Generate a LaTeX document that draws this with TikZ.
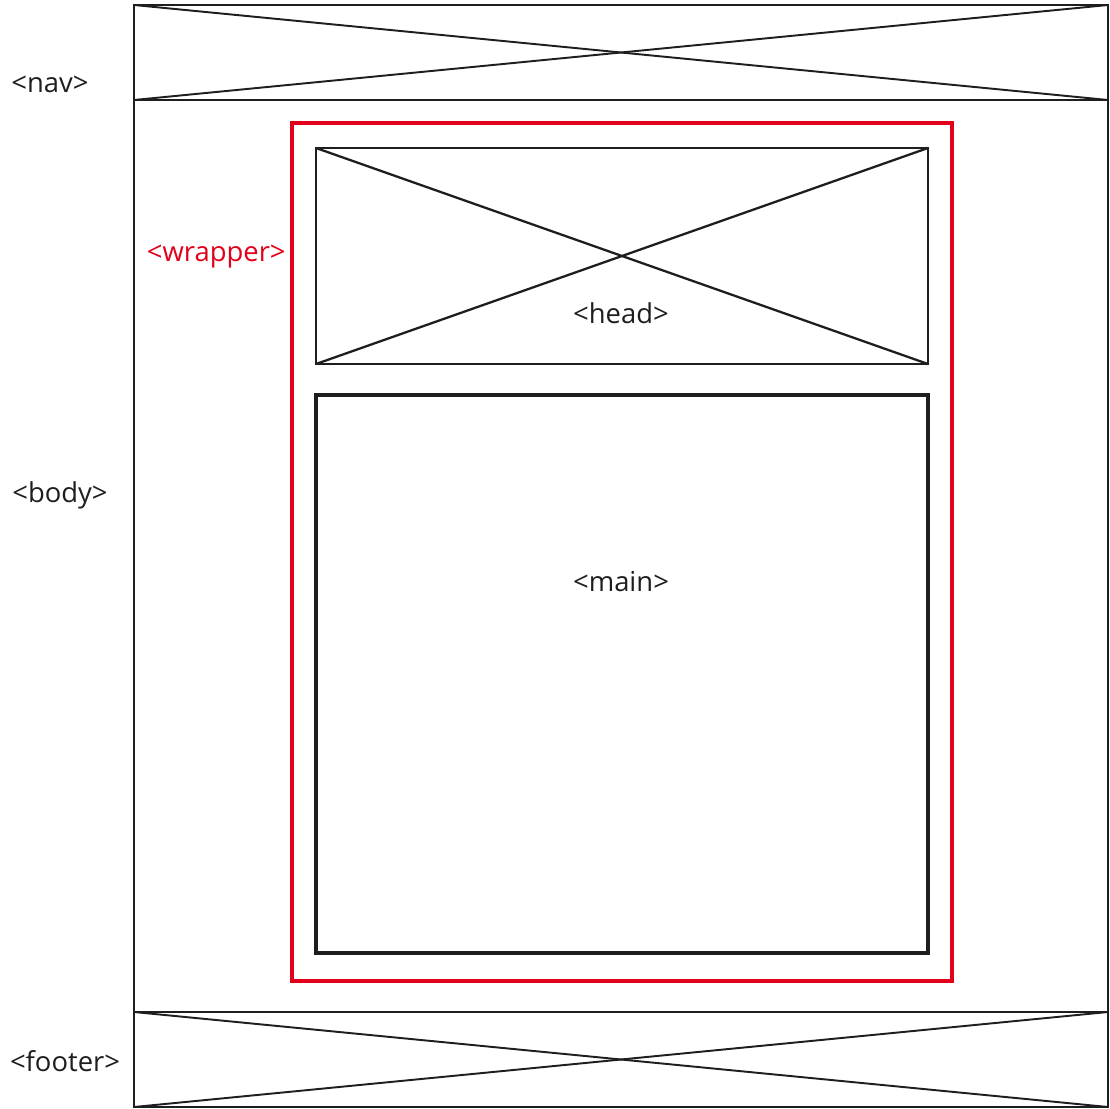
\documentclass[tikz,border=0pt]{standalone}
\usepackage{fontspec}
\setmainfont{Open Sans}
\usepackage{xcolor}
\usepackage{tikz}
\usetikzlibrary{positioning, calc}

\definecolor{wrapred}{RGB}{226,0,26}
\definecolor{ink}{RGB}{30,30,30}

\begin{document}
\begin{tikzpicture}[
        x=0.02cm, y=-0.02cm,
        font=\fontsize{15.6}{18}\selectfont,
        frame/.style={draw=ink, line width=1.2pt},
        cross/.style={draw=ink, line width=1.1pt},
        tag/.style={text=ink, inner sep=0pt}
    ]
        \useasboundingbox (0,0) rectangle (1110,1109);

        % outer page
        \coordinate (page_tl) at (134,5);
        \coordinate (page_br) at (1108,1107);
        \coordinate (nav_br) at (1108,100);
        \coordinate (foot_tl) at (134,1012);

        \draw[frame] (page_tl) rectangle (page_br);
        \draw[frame] (134,100) -- (nav_br);
        \draw[frame] (foot_tl) -- (1108,1012);

        % nav and footer crosses
        \draw[cross] (page_tl) -- (nav_br);
        \draw[cross] (134,100) -- (1108,5);
        \draw[cross] (foot_tl) -- (page_br);
        \draw[cross] (134,1107) -- (1108,1012);

        % wrapper
        \coordinate (wrap_tl) at (292,123);
        \coordinate (wrap_br) at (952,981);
        \draw[wrapred, line width=2.3pt] (wrap_tl) rectangle (wrap_br);

        % head
        \coordinate (head_tl) at (316,148);
        \coordinate (head_br) at (928,364);
        \draw[frame, line width=1.4pt] (head_tl) rectangle (head_br);
        \draw[cross, line width=1.3pt] (head_tl) -- (head_br);
        \draw[cross, line width=1.3pt] (316,364) -- (928,148);

        % main
        \coordinate (main_tl) at (316,395);
        \coordinate (main_br) at (928,953);
        \draw[frame, line width=2.4pt] (main_tl) rectangle (main_br);

        % labels
        \node[tag] (nav) at (50,84) {<nav>};
        \node[tag] (body) at (60,495) {<body>};
        \node[tag] (footer) at (65,1061) {<footer>};
        \node[tag, text=wrapred, anchor=east] (wrapper) at (286,256) {<wrapper>};
        \node[tag] (head) at (621,313) {<head>};
        \node[tag] (main) at (621,582) {<main>};

    \end{tikzpicture}
\end{document}
